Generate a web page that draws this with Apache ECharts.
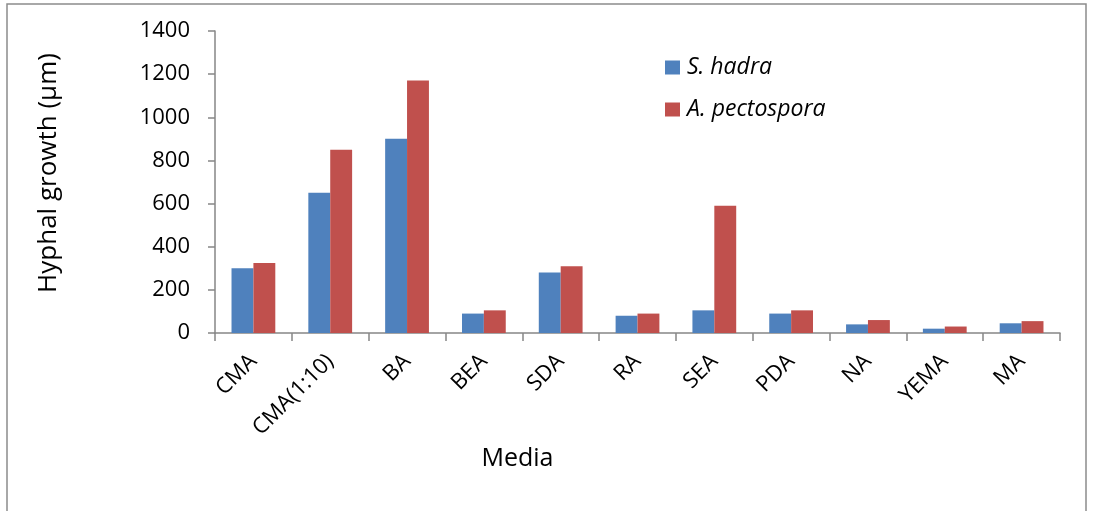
<!DOCTYPE html>
<html>
<head>
<meta charset="utf-8">
<script src="https://cdn.jsdelivr.net/npm/echarts@6/dist/echarts.min.js"></script>
<style>
  html, body { margin: 0; padding: 0; background: #fff; }
  #chart { width: 1094px; height: 511px; }
</style>
</head>
<body>
<div id="chart"></div>
<script>
// Growth media tested
const media = ['CMA', 'CMA(1:10)', 'BA', 'BEA', 'SDA', 'RA', 'SEA', 'PDA', 'NA', 'YEMA', 'MA'];
// Hyphal growth (µm) per medium
const sHadra = [300, 650, 900, 90, 280, 80, 105, 90, 40, 20, 45];
const aPectospora = [325, 850, 1170, 105, 310, 90, 590, 105, 60, 30, 55];
const seriesNames = ['S. hadra', 'A. pectospora'];

const FONT = '"Open Sans", "Liberation Sans", sans-serif';
const axisColor = '#868686';

const chart = echarts.init(document.getElementById('chart'), null, { renderer: 'canvas' });

chart.setOption({
  animation: false,
  backgroundColor: '#ffffff',
  textStyle: { fontFamily: FONT, color: '#000' },
  graphic: [{
    type: 'rect',
    shape: { x: 7, y: 4, width: 1079, height: 540 },
    style: { fill: 'none', stroke: '#8c8c8c', lineWidth: 1.5 },
    silent: true
  }],
  grid: { left: 215, right: 34, top: 31, bottom: 178, containLabel: false },
  legend: {
    orient: 'vertical',
    left: 660,
    top: 51,
    itemWidth: 15,
    itemHeight: 14,
    itemGap: 19,
    icon: 'rect',
    textStyle: { fontFamily: FONT, fontSize: 23, fontStyle: 'italic', color: '#000', lineHeight: 23, padding: [0, 0, 0, 2] },
    data: seriesNames
  },
  xAxis: {
    type: 'category',
    data: media,
    name: 'Media',
    nameLocation: 'middle',
    nameGap: 106,
    nameTextStyle: { fontFamily: FONT, fontSize: 25, color: '#000', padding: [0, 240, 0, 0] },
    axisLine: { lineStyle: { color: axisColor, width: 1.5 } },
    axisTick: { show: true, length: 8, alignWithLabel: false, lineStyle: { color: axisColor, width: 1.5 } },
    axisLabel: { rotate: 45, margin: 25, fontFamily: FONT, fontSize: 22, color: '#000', interval: 0 }
  },
  yAxis: {
    type: 'value',
    min: 0,
    max: 1400,
    interval: 200,
    name: 'Hyphal growth (µm)',
    nameLocation: 'middle',
    nameGap: 153,
    nameTextStyle: { fontFamily: FONT, fontSize: 26, color: '#000', padding: [0, 0, 0, 18] },
    axisLine: { show: true, lineStyle: { color: axisColor, width: 1.5 } },
    axisTick: { show: true, length: 7, lineStyle: { color: axisColor, width: 1.5 } },
    axisLabel: { margin: 25, fontFamily: FONT, fontSize: 22, color: '#000', formatter: (v) => String(v) },
    splitLine: { show: false }
  },
  series: [
    {
      name: seriesNames[0],
      type: 'bar',
      data: sHadra,
      barGap: '0%',
      barCategoryGap: '43%',
      itemStyle: { color: '#4F81BD' }
    },
    {
      name: seriesNames[1],
      type: 'bar',
      data: aPectospora,
      barGap: '0%',
      barCategoryGap: '43%',
      itemStyle: { color: '#C0504D' }
    }
  ]
});
</script>
</body>
</html>
